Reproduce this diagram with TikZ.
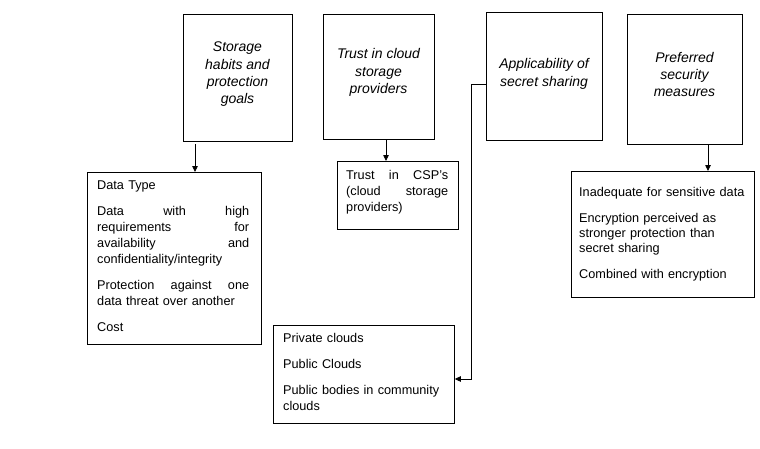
\documentclass[tikz,border=0pt]{standalone}
\usepackage{fontspec}
\setmainfont{Liberation Sans}
\usetikzlibrary{arrows.meta,calc}
\tikzset{
  frame/.style={draw=black, line width=0.8pt, rectangle, inner sep=0pt, anchor=north west},
  head/.style={inner sep=0pt, anchor=north, align=center, font=\fontsize{14}{17.4}\selectfont\itshape},
  body/.style={inner sep=0pt, anchor=north west, align=left, font=\fontsize{12.7}{16}\selectfont},
  conn/.style={draw=black, line width=0.8pt, -{Triangle[length=6pt,width=5.5pt]}},
}
\begin{document}
\begin{tikzpicture}[x=1pt,y=-1pt]
\useasboundingbox (0,0) rectangle (760,448);
% top boxes
\node[frame, minimum width=109pt, minimum height=127pt] (b1) at (183,14) {};
\node[frame, minimum width=111pt, minimum height=125pt] (b2) at (323,14) {};
\node[frame, minimum width=116pt, minimum height=128pt] (b3) at (486,12) {};
\node[frame, minimum width=115pt, minimum height=130pt] (b4) at (627,14) {};
\node[head] (t1) at (237.5,41.8) {Storage\\habits and\\protection\\goals};
\node[head] (t2) at (378.5,48.3) {Trust in cloud\\storage\\providers};
\node[head] (t3) at (544,58.3) {Applicability of\\secret sharing};
\node[head] (t4) at (684.5,51.7) {Preferred\\security\\measures};
% lower boxes
\node[frame, minimum width=174pt, minimum height=172pt] (d1) at (87,172) {};
\node[frame, minimum width=121pt, minimum height=68pt] (d2) at (337,161) {};
\node[frame, minimum width=181pt, minimum height=98pt] (d3) at (273,325) {};
\node[frame, minimum width=183pt, minimum height=126pt] (d4) at (571,171) {};
\node[body, text width=152pt] (e1) at (97,180.4) {Data Type\\[10pt]
Data\hfill with\hfill high\\
requirements\hfill for\\
availability\hfill and\\
confidentiality/integrity\\[10pt]
Protection\hfill against\hfill one\\
data threat over another\\[10pt]
Cost};
\node[body, text width=102pt] (e2) at (346,169.7) {Trust\hfill in\hfill CSP’s\\
(cloud\hfill storage\\
providers)};
\node[body, text width=165pt] (e3) at (283,332.7) {Private clouds\\[10pt]
Public Clouds\\[10pt]
Public bodies in community\\
clouds};
\node[body, text width=170pt, font=\fontsize{12.7}{15}\selectfont] (e4) at (579,187.1) {Inadequate for sensitive data\\[11pt]
Encryption perceived as\\
stronger protection than\\
secret sharing\\[11pt]
Combined with encryption};
% connectors
\coordinate (s1) at (195,144);
\coordinate (s4) at (708,144);
\coordinate (s3) at ($(b3.north west)!0.56!(b3.south west)$);
\coordinate (k1) at (471,0);
\draw[conn] (s1) -- (s1 |- d1.north);
\draw[conn] (386,0 |- b2.south) -- (386,0 |- d2.north);
\draw[conn] (s4) -- (s4 |- d4.north);
\draw[conn] (s3) -- (k1 |- s3) -- (471,379) -- (d3.east |- 0,379);
\end{tikzpicture}
\end{document}
